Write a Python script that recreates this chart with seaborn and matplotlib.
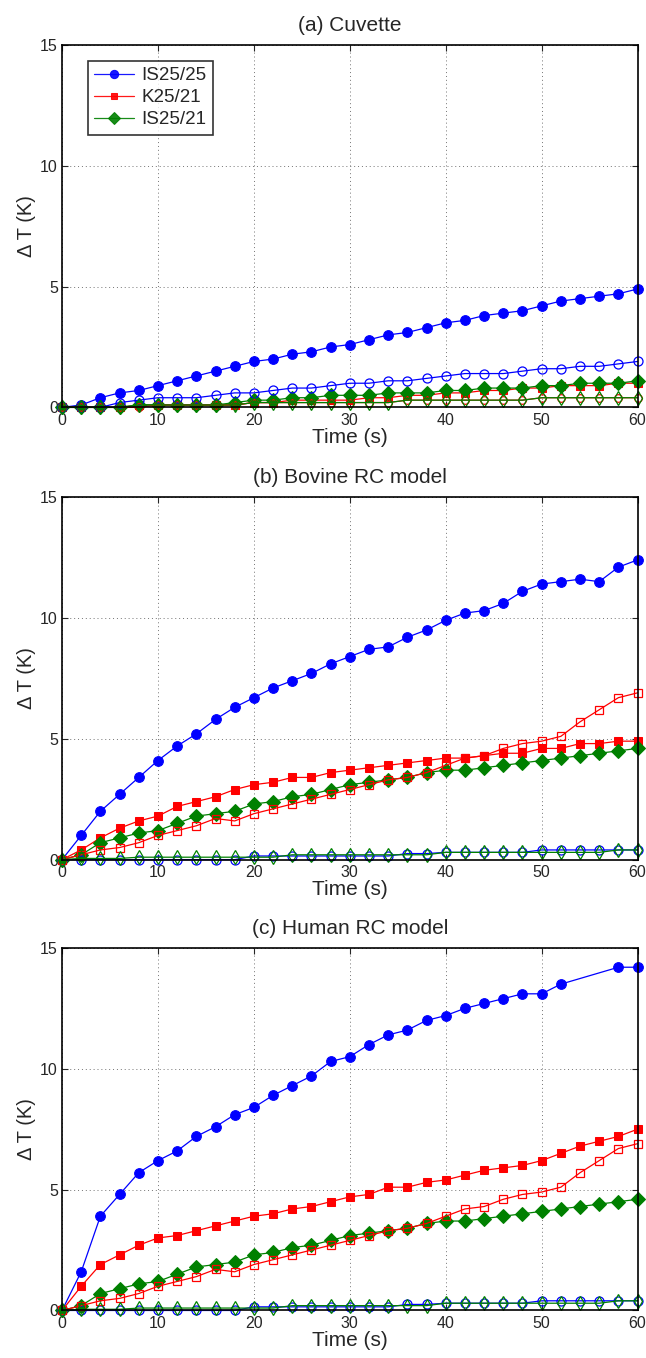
import numpy as np
import pandas as pd
import matplotlib
matplotlib.use("Agg")
import matplotlib.pyplot as plt
import seaborn as sns

# time points (s)
t = list(range(0, 61, 2))
t_c_blue = [x for x in t if x not in (54, 56)]

# (a) Cuvette
a_is2525 = [0, 0.1, 0.4, 0.6, 0.7, 0.9, 1.1, 1.3, 1.5, 1.7, 1.9, 2.0, 2.2, 2.3, 2.5, 2.6,
            2.8, 3.0, 3.1, 3.3, 3.5, 3.6, 3.8, 3.9, 4.0, 4.2, 4.4, 4.5, 4.6, 4.7, 4.9]
a_k2521 = [0, 0, 0, 0, 0.1, 0.1, 0.1, 0.1, 0.1, 0.1, 0.2, 0.2, 0.3, 0.3, 0.3, 0.3,
           0.4, 0.4, 0.5, 0.5, 0.6, 0.6, 0.7, 0.7, 0.8, 0.8, 0.9, 0.9, 0.9, 1.0, 1.0]
a_is2521 = [0, 0, 0, 0, 0.1, 0.1, 0.1, 0.1, 0.1, 0.2, 0.3, 0.3, 0.4, 0.4, 0.5, 0.5,
            0.5, 0.6, 0.6, 0.6, 0.7, 0.7, 0.8, 0.8, 0.8, 0.9, 0.9, 1.0, 1.0, 1.0, 1.1]
a_is2525_o = [0, 0, 0, 0.2, 0.3, 0.4, 0.4, 0.4, 0.5, 0.6, 0.6, 0.7, 0.8, 0.8, 0.9, 1.0,
              1.0, 1.1, 1.1, 1.2, 1.3, 1.4, 1.4, 1.4, 1.5, 1.6, 1.6, 1.7, 1.7, 1.8, 1.9]
a_k2521_o = [0, 0, 0, 0, 0, 0.1, 0.1, 0.1, 0.1, 0.1, 0.2, 0.2, 0.2, 0.2, 0.2, 0.2,
             0.2, 0.2, 0.3, 0.3, 0.3, 0.3, 0.3, 0.3, 0.3, 0.4, 0.4, 0.4, 0.4, 0.4, 0.4]
a_is2521_o = [0, 0, 0, 0, 0.1, 0.1, 0.1, 0.1, 0.1, 0.1, 0.2, 0.2, 0.2, 0.2, 0.2, 0.2,
              0.2, 0.2, 0.3, 0.3, 0.3, 0.3, 0.3, 0.3, 0.3, 0.4, 0.4, 0.4, 0.4, 0.4, 0.4]

# (b) Bovine RC model
b_is2525 = [0, 1.0, 2.0, 2.7, 3.4, 4.1, 4.7, 5.2, 5.8, 6.3, 6.7, 7.1, 7.4, 7.7, 8.1, 8.4,
            8.7, 8.8, 9.2, 9.5, 9.9, 10.2, 10.3, 10.6, 11.1, 11.4, 11.5, 11.6, 11.5, 12.1, 12.4]
b_k2521 = [0, 0.4, 0.9, 1.3, 1.6, 1.8, 2.2, 2.4, 2.6, 2.9, 3.1, 3.2, 3.4, 3.4, 3.6, 3.7,
           3.8, 3.9, 4.0, 4.1, 4.2, 4.2, 4.3, 4.4, 4.4, 4.6, 4.6, 4.8, 4.8, 4.9, 4.9]
b_is2521 = [0, 0.2, 0.7, 0.9, 1.1, 1.2, 1.5, 1.8, 1.9, 2.0, 2.3, 2.4, 2.6, 2.7, 2.9, 3.1,
            3.2, 3.3, 3.4, 3.6, 3.7, 3.7, 3.8, 3.9, 4.0, 4.1, 4.2, 4.3, 4.4, 4.5, 4.6]
b_is2525_o = [0, 0, 0, 0, 0, 0, 0, 0, 0, 0, 0.15, 0.15, 0.15, 0.15, 0.15, 0.15,
              0.15, 0.15, 0.25, 0.25, 0.3, 0.3, 0.3, 0.3, 0.3, 0.4, 0.4, 0.4, 0.4, 0.4, 0.4]
b_k2521_o = [0, 0.2, 0.4, 0.5, 0.7, 1.0, 1.2, 1.4, 1.7, 1.6, 1.9, 2.1, 2.3, 2.5, 2.7, 2.9,
             3.1, 3.3, 3.4, 3.6, 3.9, 4.2, 4.3, 4.6, 4.8, 4.9, 5.1, 5.7, 6.2, 6.7, 6.9]
b_is2521_o = [0, 0.05, 0.05, 0.05, 0.1, 0.1, 0.1, 0.1, 0.1, 0.1, 0.1, 0.1, 0.2, 0.2, 0.2, 0.2,
              0.2, 0.2, 0.2, 0.2, 0.3, 0.3, 0.3, 0.3, 0.3, 0.3, 0.3, 0.3, 0.3, 0.4, 0.4]

# (c) Human RC model
c_is2525 = [0, 1.6, 3.9, 4.8, 5.7, 6.2, 6.6, 7.2, 7.6, 8.1, 8.4, 8.9, 9.3, 9.7, 10.3, 10.5,
            11.0, 11.4, 11.6, 12.0, 12.2, 12.5, 12.7, 12.9, 13.1, 13.1, 13.5, 14.2, 14.2]
c_k2521 = [0, 1.0, 1.9, 2.3, 2.7, 3.0, 3.1, 3.3, 3.5, 3.7, 3.9, 4.0, 4.2, 4.3, 4.5, 4.7,
           4.8, 5.1, 5.1, 5.3, 5.4, 5.6, 5.8, 5.9, 6.0, 6.2, 6.5, 6.8, 7.0, 7.2, 7.5]
c_is2521 = [0, 0.2, 0.7, 0.9, 1.1, 1.2, 1.5, 1.8, 1.9, 2.0, 2.3, 2.4, 2.6, 2.7, 2.9, 3.1,
            3.2, 3.3, 3.4, 3.6, 3.7, 3.7, 3.8, 3.9, 4.0, 4.1, 4.2, 4.3, 4.4, 4.5, 4.6]
c_is2525_o = [0, 0, 0, 0, 0, 0, 0, 0, 0, 0, 0.15, 0.15, 0.15, 0.15, 0.15, 0.15,
              0.15, 0.15, 0.25, 0.25, 0.3, 0.3, 0.3, 0.3, 0.3, 0.4, 0.4, 0.4, 0.4, 0.4, 0.4]
c_k2521_o = [0, 0.2, 0.4, 0.5, 0.7, 1.0, 1.2, 1.4, 1.7, 1.6, 1.9, 2.1, 2.3, 2.5, 2.7, 2.9,
             3.1, 3.3, 3.4, 3.6, 3.9, 4.2, 4.3, 4.6, 4.8, 4.9, 5.1, 5.7, 6.2, 6.7, 6.9]
c_is2521_o = [0, 0.05, 0.05, 0.05, 0.1, 0.1, 0.1, 0.1, 0.1, 0.1, 0.1, 0.1, 0.2, 0.2, 0.2, 0.2,
              0.2, 0.2, 0.2, 0.2, 0.3, 0.3, 0.3, 0.3, 0.3, 0.3, 0.3, 0.3, 0.3, 0.4, 0.4]

titles = ["(a) Cuvette", "(b) Bovine RC model", "(c) Human RC model"]
labels = ["IS25/25", "K25/21", "IS25/21"]
open_red_marker = ["o", "s", "s"]

panels = [
    (t, a_is2525, a_k2521, a_is2521, a_is2525_o, a_k2521_o, a_is2521_o),
    (t, b_is2525, b_k2521, b_is2521, b_is2525_o, b_k2521_o, b_is2521_o),
    (t_c_blue, c_is2525, c_k2521, c_is2521, c_is2525_o, c_k2521_o, c_is2521_o),
]

BLUE, RED, GREEN = (0, 0, 1), (1, 0, 0), (0, 0.5, 0)

sns.set_theme(style="white")
plt.rcParams['font.family'] = ['Liberation Sans', 'DejaVu Sans']

fig = plt.figure(figsize=(6.46, 13.58), dpi=100)
tops = [0.967, 0.634, 0.302]
h = 0.267

for i, (tb, s1, s2, s3, o1, o2, o3) in enumerate(panels):
    ax = fig.add_axes([0.096, tops[i] - h, 0.891, h])
    filled = [(tb, s1, BLUE, "o", 7, labels[0]),
              (t, s2, RED, "s", 5.5, labels[1]),
              (t, s3, GREEN, "D", 7, labels[2])]
    for xs, ys, c, m, ms, lab in filled:
        sns.lineplot(x=xs, y=ys, ax=ax, color=c, marker=m, markersize=ms,
                     markerfacecolor=c, markeredgecolor=c, linewidth=0.9,
                     label=lab, estimator=None, sort=False, clip_on=False)
    opened = [(o1, BLUE, "o", 6.5), (o2, RED, open_red_marker[i], 5.5), (o3, GREEN, "d", 7.5)]
    for ys, c, m, ms in opened:
        sns.lineplot(x=t, y=ys, ax=ax, color=c, marker=m, markersize=ms,
                     markerfacecolor="none", markeredgecolor=c, markeredgewidth=0.9,
                     linewidth=0.9, estimator=None, sort=False, clip_on=False)
    ax.set_xlim(0, 60)
    ax.set_ylim(0, 15)
    ax.set_xticks(range(0, 61, 10))
    ax.set_yticks([0, 5, 10, 15])
    ax.grid(True, linestyle=(0, (1, 3)), color="0.45", linewidth=0.7)
    ax.tick_params(direction="in", length=4, width=0.8, labelsize=11.5,
                   top=True, right=True, bottom=True, left=True)
    ax.tick_params(axis="x", pad=4)
    ax.tick_params(axis="y", pad=3)
    for sp in ax.spines.values():
        sp.set_visible(True)
        sp.set_color("black")
        sp.set_linewidth(1.2)
        sp.set_zorder(5)
    ax.set_title(titles[i], fontsize=15, pad=10)
    ax.set_xlabel("Time (s)", fontsize=15, labelpad=0)
    ax.set_ylabel("Δ T (K)", fontsize=14.5, labelpad=3)
    if i == 0:
        leg = ax.legend(loc="upper left", bbox_to_anchor=(0.045, 0.956), borderaxespad=0,
                        fontsize=13.5, frameon=True, fancybox=False, borderpad=0.35,
                        markerscale=0.85, handlelength=2.1, labelspacing=0.25,
                        handletextpad=0.4)
        leg.get_frame().set_edgecolor("black")
        leg.get_frame().set_linewidth(1.2)
        for ln in leg.get_lines():
            ln.set_alpha(0.9)
    else:
        ax.get_legend().remove()

fig.savefig("out.png", dpi=100)
